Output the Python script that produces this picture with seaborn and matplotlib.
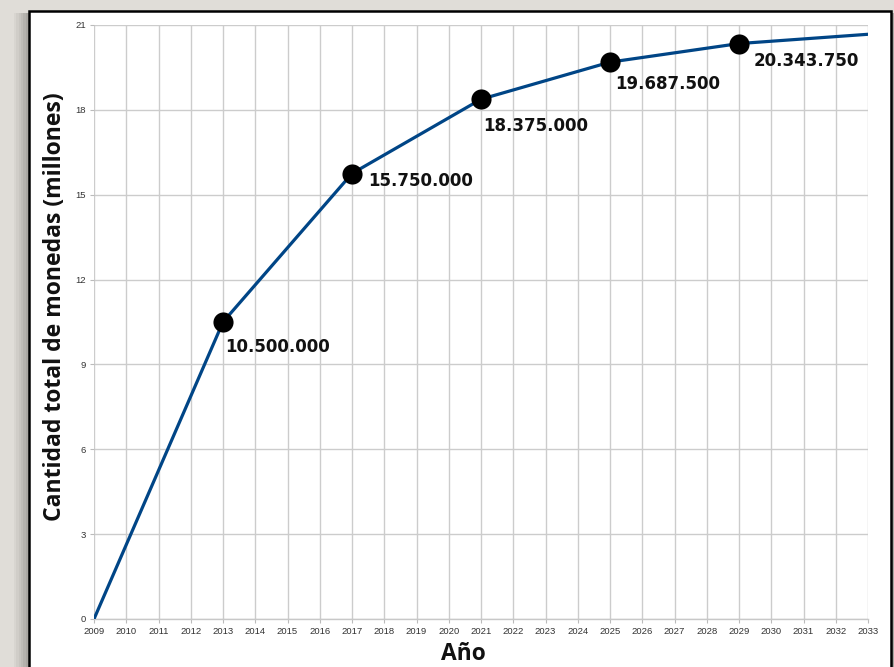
import matplotlib
matplotlib.use("Agg")
import matplotlib.pyplot as plt
import matplotlib.patches as mpatches
import seaborn as sns
import pandas as pd

years = [2009, 2013, 2017, 2021, 2025, 2029, 2033]
coins = [0.0, 10.5, 15.75, 18.375, 19.6875, 20.34375, 20.671875]
halving_years = [2013, 2017, 2021, 2025, 2029]
halving_coins = [10.5, 15.75, 18.375, 19.6875, 20.34375]
halving_labels = ["10.500.000", "15.750.000", "18.375.000", "19.687.500", "20.343.750"]
label_offsets = [(2, -25), (16, -7), (2, -27), (5, -22), (15, -17)]
year_ticks = list(range(2009, 2034))
y_ticks = [0, 3, 6, 9, 12, 15, 18, 21]

sns.set_theme(style="white")
plt.rcParams['font.family'] = ['Liberation Sans', 'DejaVu Sans']

W, H = 894, 667
fig = plt.figure(figsize=(W / 100, H / 100), dpi=100)
fig.patch.set_facecolor("#e0ddd8")

# soft shadow on the left of the panel
shadow_cols = ["#d8d5d0", "#d0cdc8", "#c8c5c0", "#bfbcb7", "#b5b2ad", "#aaa7a2"]
for i, c in enumerate(shadow_cols):
    x0 = (14 + i * 2.3) / W
    fig.patches.append(mpatches.Rectangle((x0, -0.02), 1.0 - x0, 1.0, transform=fig.transFigure,
                                          facecolor=c, edgecolor="none", zorder=-3 + i * 0.01))
# white panel with black border
panel = mpatches.Rectangle((28.5 / W, -0.02), (890.5 - 28.5) / W, 1.0 - 11 / H + 0.02,
                           transform=fig.transFigure, facecolor="white", edgecolor="black",
                           linewidth=1.8, zorder=-2)
fig.patches.append(panel)

ax = fig.add_axes([94 / W, (H - 619) / H, (868 - 94) / W, (619 - 25) / H])
ax.set_facecolor("none")

df = pd.DataFrame({"year": years, "coins": coins})
dh = pd.DataFrame({"year": halving_years, "coins": halving_coins})

sns.lineplot(data=df, x="year", y="coins", ax=ax, color="#004586", linewidth=2.3, zorder=3)
sns.scatterplot(data=dh, x="year", y="coins", ax=ax, color="black", s=210,
                edgecolor="black", linewidth=0, zorder=4)

for x, y, lab, (dx, dy) in zip(halving_years, halving_coins, halving_labels, label_offsets):
    ax.annotate(lab, (x, y), xytext=(dx, dy), textcoords="offset pixels",
                ha="left", va="center", fontsize=12, fontweight="bold",
                family=["DejaVu Sans"], color="#111111", zorder=5)

ax.set_xlim(2009, 2033)
ax.set_ylim(0, 21)
ax.set_xticks(year_ticks)
ax.set_xticklabels([str(y) for y in year_ticks])
ax.set_yticks(y_ticks)
ax.set_yticklabels([str(v) for v in y_ticks])
ax.grid(True, color="#cccccc", linewidth=1.0)
ax.set_axisbelow(True)
for s in ["top", "right", "left"]:
    ax.spines[s].set_visible(False)
ax.spines["bottom"].set_color("#c8c8c8")
ax.spines["bottom"].set_linewidth(1.0)
ax.tick_params(axis="both", labelsize=6.8, colors="#333333", length=3, width=0.8,
               color="#bbbbbb", pad=3, direction="out", bottom=True, left=True)

ax.set_xlabel("Año", fontsize=16.4, fontweight="bold", family=["Open Sans", "DejaVu Sans"],
              color="#111111")
ax.set_ylabel("Cantidad total de monedas (millones)", fontsize=16.6, fontweight="bold",
              family=["Open Sans", "DejaVu Sans"], color="#111111")
ax.xaxis.set_label_coords((463 - 94) / 774, (619 - 642) / 594)
ax.yaxis.set_label_coords((67 - 94) / 774, (619 - 307) / 594)

fig.savefig("out.png", dpi=100, facecolor=fig.get_facecolor())
